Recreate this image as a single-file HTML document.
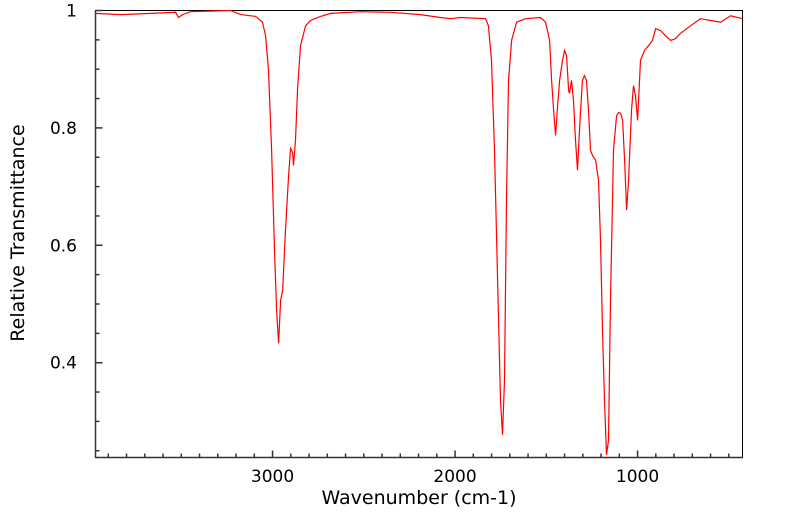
<!DOCTYPE html>
<html><head><meta charset="utf-8"><style>
body{margin:0;background:#fff;}
svg text{font-family:"DejaVu Sans","Liberation Sans",sans-serif;font-size:17px;fill:#000;}
svg text.title{font-size:19px;}
</style></head><body>
<svg id="chart" width="799" height="516" xmlns="http://www.w3.org/2000/svg">
<rect x="95.5" y="10.5" width="647" height="447" fill="none" stroke="#000" stroke-width="1"/>
<g id="ticks"></g>
<path id="series" fill="none" stroke="#ff0000" stroke-width="1.2"/>
<text class="title" x="419" y="504" text-anchor="middle">Wavenumber (cm-1)</text>
<text class="title" transform="translate(24,233) rotate(-90)" text-anchor="middle">Relative Transmittance</text>
</svg>
<script>
const wavenumbers=[3970,3833,3668,3531,3515,3493,3449,3230,3175,3093,3055,3038,3022,3005,2989,2978,2967,2956,2945,2929,2912,2901,2890,2885,2874,2863,2847,2819,2792,2737,2682,2518,2353,2189,2080,2025,1970,1833,1817,1800,1784,1767,1751,1740,1729,1718,1707,1690,1663,1614,1532,1504,1482,1471,1460,1449,1438,1427,1411,1400,1389,1378,1373,1362,1351,1340,1329,1318,1302,1291,1280,1269,1258,1247,1230,1214,1203,1192,1181,1170,1159,1148,1132,1115,1104,1093,1082,1071,1060,1049,1033,1022,1011,1000,984,962,940,918,901,874,847,819,792,765,710,655,600,545,490,425];
const transmittance=[0.995,0.993,0.995,0.997,0.988,0.993,0.998,1.0,0.993,0.990,0.980,0.957,0.898,0.762,0.592,0.489,0.433,0.506,0.523,0.626,0.719,0.765,0.758,0.736,0.779,0.864,0.940,0.974,0.983,0.990,0.995,0.998,0.997,0.993,0.988,0.986,0.988,0.986,0.974,0.915,0.762,0.540,0.336,0.277,0.370,0.677,0.881,0.949,0.980,0.986,0.988,0.980,0.949,0.881,0.830,0.787,0.838,0.881,0.915,0.932,0.923,0.864,0.859,0.881,0.847,0.779,0.728,0.796,0.881,0.889,0.881,0.830,0.762,0.753,0.745,0.711,0.609,0.455,0.336,0.243,0.268,0.506,0.762,0.821,0.826,0.825,0.813,0.745,0.660,0.711,0.830,0.872,0.855,0.813,0.915,0.932,0.940,0.949,0.969,0.966,0.957,0.949,0.952,0.961,0.974,0.986,0.983,0.980,0.991,0.986];
const xTickLabels=[3000,2000,1000];
const yTickLabels=[0.4,0.6,0.8,1];
const X0=95.5,X1=742.5,Y0=10.5,Y1=457.5;
const W_LEFT=3970,W_RIGHT=425,T_TOP=1.0,T_BOT=0.2385;
const sx=w=>X0+(W_LEFT-w)/(W_LEFT-W_RIGHT)*(X1-X0);
const sy=t=>Y0+(T_TOP-t)/(T_TOP-T_BOT)*(Y1-Y0);
const NS='http://www.w3.org/2000/svg';
const svg=document.getElementById('chart');
const g=document.getElementById('ticks');
let d='';
wavenumbers.forEach((w,i)=>{d+=(i?'L':'M')+sx(w).toFixed(1)+' '+sy(transmittance[i]).toFixed(1);});
document.getElementById('series').setAttribute('d',d);
function line(x1,y1,x2,y2,name){const l=document.createElementNS(NS,'line');
l.setAttribute('x1',x1);l.setAttribute('y1',y1);l.setAttribute('x2',x2);l.setAttribute('y2',y2);
l.setAttribute('stroke','#333');l.setAttribute('stroke-width','1.5');


g.appendChild(l);}
line(X0,Y0,X0,Y1,'y-axis-line');
line(X0,Y1,X1,Y1,'x-axis-line');
for(let w=3900;w>=500;w-=100){const x=sx(w);const major=w%1000===0;line(x,Y1,x,Y1-(major?7:4),'x-tick');}
for(let t=0.25;t<=1.0001;t+=0.05){const y=sy(t);const major=Math.abs(t*10-Math.round(t*10))<1e-6&&Math.round(t*10)%2===0;line(X0,y,X0+(major?7:4),y,'y-tick');}
xTickLabels.forEach(v=>{const t=document.createElementNS(NS,'text');
t.setAttribute('x',sx(v));t.setAttribute('y',482);t.setAttribute('text-anchor','middle');t.textContent=v;


svg.appendChild(t);});
yTickLabels.forEach(v=>{const t=document.createElementNS(NS,'text');
t.setAttribute('x',77);t.setAttribute('y',sy(v)+6);t.setAttribute('text-anchor','end');t.textContent=v;


svg.appendChild(t);});
</script>
</body></html>
